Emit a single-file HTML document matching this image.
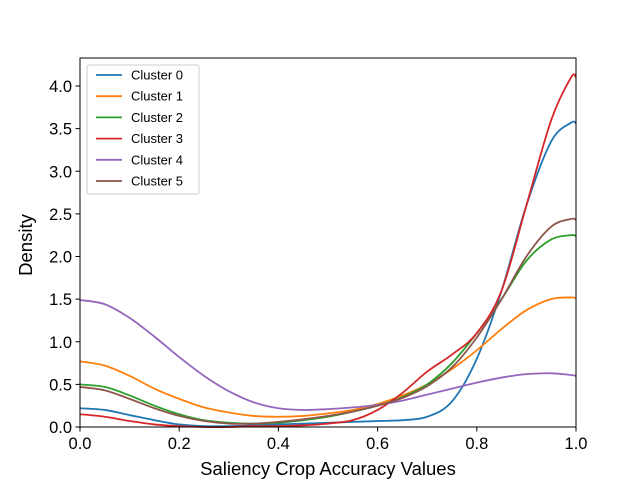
<!DOCTYPE html>
<html><head><meta charset="utf-8"><style>
body{margin:0;background:#fff}
svg{display:block;font-family:"Liberation Sans","DejaVu Sans",sans-serif}
</style></head><body>
<svg id="chart" width="640" height="480">
<rect x="0" y="0" width="640" height="480" fill="#fff"/>
<g id="marks"></g>
<rect x="80" y="58" width="496" height="369" fill="none" stroke="#000" stroke-width="1"/>
<g id="axes"></g>
<text x="328" y="475" text-anchor="middle" font-size="18.5">Saliency Crop Accuracy Values</text>
<text transform="translate(32,245) rotate(-90)" text-anchor="middle" font-size="18.5">Density</text>
<g id="legend"></g>
</svg>
<script>
const seriesNames=["Cluster 0","Cluster 1","Cluster 2","Cluster 3","Cluster 4","Cluster 5"];
const colors=["#1f77b4","#ff7f0e","#2ca02c","#d62728","#9467bd","#8c564b"];
const xs=[0,0.05,0.1,0.15,0.2,0.25,0.3,0.35,0.4,0.45,0.5,0.55,0.6,0.65,0.7,0.75,0.8,0.85,0.9,0.95,0.99,1.0];
const c0=[0.22,0.2,0.14,0.08,0.03,0.01,0.01,0.02,0.03,0.04,0.05,0.06,0.07,0.08,0.12,0.3,0.8,1.6,2.6,3.35,3.57,3.56];
const c1=[0.77,0.72,0.6,0.45,0.33,0.23,0.17,0.13,0.12,0.13,0.16,0.2,0.27,0.37,0.5,0.68,0.9,1.15,1.37,1.5,1.52,1.51];
const c2=[0.5,0.47,0.37,0.25,0.15,0.08,0.05,0.04,0.05,0.08,0.12,0.18,0.25,0.35,0.5,0.75,1.1,1.5,1.95,2.2,2.25,2.24];
const c3=[0.15,0.12,0.07,0.03,0.01,0.0,0.0,0.01,0.01,0.02,0.04,0.08,0.2,0.4,0.65,0.85,1.1,1.6,2.6,3.6,4.1,4.1];
const c4=[1.49,1.44,1.28,1.06,0.82,0.6,0.42,0.29,0.22,0.2,0.21,0.23,0.26,0.31,0.38,0.45,0.52,0.58,0.62,0.63,0.61,0.6];
const c5=[0.47,0.43,0.33,0.22,0.13,0.07,0.04,0.04,0.06,0.09,0.13,0.18,0.25,0.34,0.48,0.7,1.05,1.5,2.0,2.35,2.44,2.43];
const series=[c0,c1,c2,c3,c4,c5];
const xTicks=[0,0.2,0.4,0.6,0.8,1.0];
const yTicks=[0,0.5,1,1.5,2,2.5,3,3.5,4];
const X=v=>80+v*496, Y=v=>427-v*85.25;
const NS="http://www.w3.org/2000/svg";
const marks=document.getElementById('marks'),axes=document.getElementById('axes'),leg=document.getElementById('legend');
function mk(t,a,p){const e=document.createElementNS(NS,t);for(const k in a)e.setAttribute(k,a[k]);p.appendChild(e);return e;}
function pathFor(vals){
 const p=xs.map((x,i)=>[X(x),Y(vals[i])]);
 let d="M"+p[0][0]+","+p[0][1];
 for(let i=0;i<p.length-1;i++){
  const p0=p[Math.max(0,i-1)],p1=p[i],p2=p[i+1],p3=p[Math.min(p.length-1,i+2)];
  const c1x=p1[0]+(p2[0]-p0[0])/6,c1y=p1[1]+(p2[1]-p0[1])/6,c2x=p2[0]-(p3[0]-p1[0])/6,c2y=p2[1]-(p3[1]-p1[1])/6;
  d+=` C${c1x},${c1y} ${c2x},${c2y} ${p2[0]},${p2[1]}`;
 }
 return d;
}
series.forEach((s,i)=>{
 const e=mk('path',{d:pathFor(s),fill:'none',stroke:colors[i],'stroke-width':1.8},marks);
 
 
});
xTicks.forEach(t=>{
 mk('line',{x1:X(t),x2:X(t),y1:427,y2:431.5,stroke:'#000'},axes);
 const e=mk('text',{x:X(t),y:449,'text-anchor':'middle','font-size':16.5},axes);e.textContent=t.toFixed(1);
 
 
});
yTicks.forEach(t=>{
 mk('line',{x1:75.5,x2:80,y1:Y(t),y2:Y(t),stroke:'#000'},axes);
 const e=mk('text',{x:72,y:Y(t)+6,'text-anchor':'end','font-size':16.5},axes);e.textContent=t.toFixed(1);
 
 
});
const lb=mk('rect',{x:87,y:65,width:112,height:129,rx:2,fill:'#fff',stroke:'#ccc'},leg);


seriesNames.forEach((n,i)=>{
 const y=75+i*21.2;
 mk('line',{x1:96,x2:122,y1:y,y2:y,stroke:colors[i],'stroke-width':1.8},leg);
 const e=mk('text',{x:131,y:y+4.5,'font-size':13},leg);e.textContent=n;
 
 
});
</script>
</body></html>
